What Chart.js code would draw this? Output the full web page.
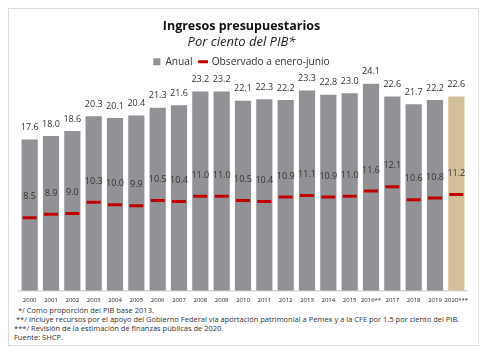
<!DOCTYPE html>
<html>
<head>
<meta charset="utf-8">
<script src="https://cdn.jsdelivr.net/npm/chart.js@4"></script>
<style>
  body { margin: 0; background: #fff; font-family: "Open Sans", sans-serif; }
  #frame { position: absolute; left: 8px; top: 8px; width: 469px; height: 336px; border: 1px solid #dcdcdc; }
  #wrap { position: absolute; left: 0; top: 0; width: 469px; height: 293px; }
  #notes { position: absolute; left: 5px; top: 297px; font-size: 7.5px; line-height: 9px; color: #333; }
</style>
</head>
<body>
<div id="frame">
  <div id="wrap"><canvas id="graph-canvas"></canvas></div>
  <div id="notes">
    <div>&nbsp;&nbsp;*/ Como proporción del PIB base 2013.</div>
    <div>&nbsp;**/ Incluye recursos por el apoyo del Gobierno Federal vía aportación patrimonial a Pemex y a la CFE por 1.5 por ciento del PIB.</div>
    <div>***/ Revisión de la estimación de finanzas públicas de 2020.</div>
    <div>Fuente: SHCP.</div>
  </div>
</div>
<script>
const years = ["2000","2001","2002","2003","2004","2005","2006","2007","2008","2009","2010","2011","2012","2013","2014","2015","2016**","2017","2018","2019","2020***"];
const anual = [17.6,18.0,18.6,20.3,20.1,20.4,21.3,21.6,23.2,23.2,22.1,22.3,22.2,23.3,22.8,23.0,24.1,22.6,21.7,22.2,22.6];
const observado = [8.5,8.9,9.0,10.3,10.0,9.9,10.5,10.4,11.0,11.0,10.5,10.4,10.9,11.1,10.9,11.0,11.6,12.1,10.6,10.8,11.2];

const barColors = years.map((y, i) => i == years.length - 1 ? '#d3c09b' : '#929196');

// writes the value over each bar and each red marker
const valueLabels = {
    id: 'valueLabels',
    afterDatasetsDraw(chart)
    {
        const c = chart.ctx;
        c.save();
        c.font = '9px "Open Sans"';
        c.fillStyle = '#333';
        c.textAlign = 'center';
        c.textBaseline = 'middle';
        chart.getDatasetMeta(0).data.forEach((bar, i) => {
            c.fillText(anual[i].toFixed(1), bar.x, bar.y - 12);
        });
        chart.getDatasetMeta(1).data.forEach((pt, i) => {
            c.fillText(observado[i].toFixed(1), pt.x, pt.y - 21);
        });
        c.restore();
    }
};

const ctx = document.getElementById('graph-canvas');
var chart = new Chart(ctx,
    {
    type: 'bar',
    data:
    {
        labels: years,
        datasets:
        [{
            label: 'Anual',
            data: anual,
            backgroundColor: barColors,
            categoryPercentage: 1,
            barPercentage: 0.76,
            pointStyle: 'rect',
            order: 2
        },
        {
            type: 'line',
            label: 'Observado a enero-junio',
            data: observado,
            showLine: false,
            borderColor: '#c00000',
            backgroundColor: '#c00000',
            pointStyle: 'line',
            pointRadius: 7,
            pointHoverRadius: 7,
            pointBorderWidth: 3,
            order: 1
        }]
    },
    options:
    {
        responsive: true,
        maintainAspectRatio: false,
        animation: false,
        layout: { padding: { left: 7, right: 11, top: 4, bottom: 0 } },
        scales:
        {
            x:
            {
                grid: { display: false },
                border: { color: '#d8d8d8', width: 1.5 },
                ticks: { font: { size: 6, family: 'Open Sans' }, color: '#222', maxRotation: 0, autoSkip: false, padding: -2 }
            },
            y:
            {
                display: false,
                min: 0,
                max: 24.9
            }
        },
        plugins:
        {
            title:
            {
                display: true,
                text: 'Ingresos presupuestarios',
                font: { size: 12.5, weight: 'bold', family: 'Open Sans' },
                color: '#111',
                padding: { top: 6, bottom: 0 }
            },
            subtitle:
            {
                display: true,
                text: 'Por ciento del PIB*',
                font: { size: 13, style: 'italic', family: 'Open Sans' },
                color: '#222',
                padding: { top: 0, bottom: 0 }
            },
            legend:
            {
                labels:
                {
                    usePointStyle: true, boxWidth: 7, boxHeight: 7,
                    font: { size: 10.2, family: 'Open Sans' }, color: '#333', padding: 7,
                    sort: (a, b) => a.datasetIndex - b.datasetIndex
                }
            },
            tooltip: { enabled: false }
        }
    },
    plugins: [valueLabels]
});
</script>
</body>
</html>
